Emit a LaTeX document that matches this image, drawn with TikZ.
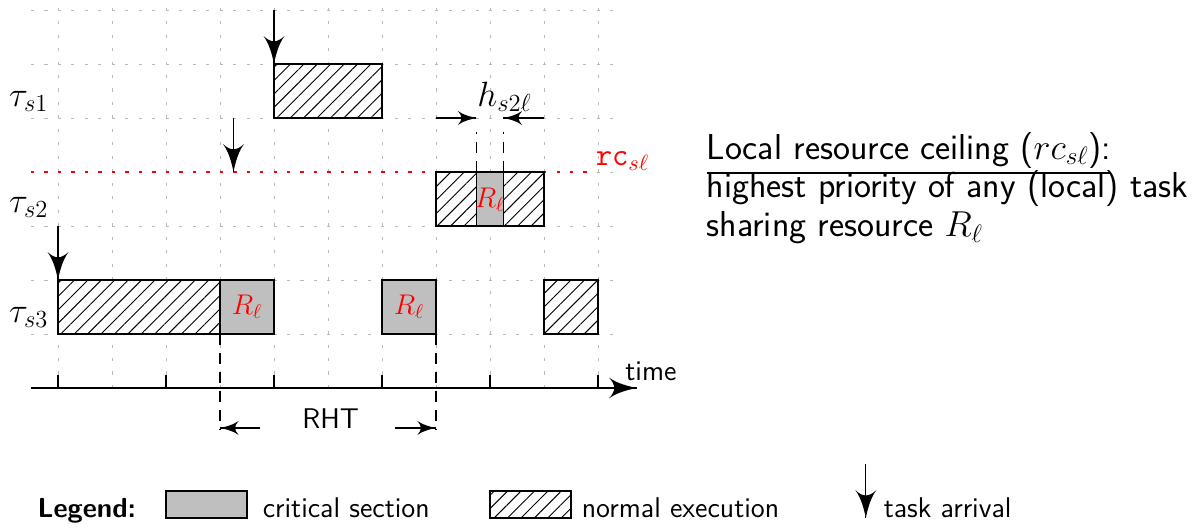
\RequirePackage{fix-cm}
\documentclass[tikz,border=0pt]{standalone}
\usepackage{fontspec}
\usepackage{amsmath}
\usepackage{amssymb}
\usepackage{tikz}
\usetikzlibrary{arrows}
\usetikzlibrary{decorations.markings}
\usetikzlibrary{patterns.meta}
\tikzset{arr/.style = {decoration={markings,
                                   mark=at position 1 with {\arrow[scale=3]{latex'}}},
                       postaction={decorate}}}
\tikzset{small arr/.style = {decoration={markings,
                                         mark=at position 1 with {\arrow[scale=2]{latex'}}},
                             postaction={decorate}}}
\tikzset{crit/.style = {draw, line width=0.8pt, fill=gray!50}}
\tikzset{norm/.style = {draw, line width=0.8pt, preaction={fill=white},
                        pattern={Lines[angle=45, distance=5pt, line width=0.5pt]}}}
\tikzset{res/.style = {text=red}}
\tikzset{task/.style = {font=\fontsize{18.5}{22}\selectfont}}
\tikzset{gridline/.style = {gray!55, line width=0.5pt, dash pattern=on 1.6pt off 5.5pt}}
\tikzset{marker/.style = {line width=0.7pt, dash pattern=on 6pt off 4pt}}

\begin{document}
\begin{tikzpicture}[font=\sffamily\fontsize{15}{18}\selectfont, line width=0.7pt]
      \useasboundingbox (-1.074, -2.611) rectangle (21.093, 7.185);
      \draw [gridline] (-0.5, 0) grid (10.45, 7.15);
      \draw [red, line width=0.7pt, dash pattern=on 1.8pt off 5.3pt] (-0.5, 4) -- (9.9, 4);
      \node [res, anchor=west, font=\fontsize{16.7}{20}\selectfont] (rc) at (9.83, 4.2) {$\texttt{rc}_{s\ell}$};

      \node [task] (t1) at (-0.54, 5.31) {$\tau_{s1}$};
      \node [task] (t2) at (-0.54, 3.35) {$\tau_{s2}$};
      \node [task] (t3) at (-0.54, 1.31) {$\tau_{s3}$};

      % task s1
      \draw [norm] (4, 5) rectangle (6, 6);
      \draw [arr] (4, 7) -- (4, 6);

      % task s2
      \draw [arr] (3.25, 5) -- (3.25, 4);
      \draw [norm] (7, 3) rectangle (9, 4);
      \draw [crit] (7.75, 3) rectangle (8.25, 4);
      \node [res] (r3) at (8, 3.48) {$R_\ell$};
      \draw [marker] (7.75, 4) -- (7.75, 4.74);
      \draw [marker] (8.25, 4) -- (8.25, 4.74);
      \draw [small arr] (7, 5) -- (7.75, 5);
      \draw [small arr] (9, 5) -- (8.25, 5);
      \node [task] (h) at (8.27, 5.39) {$h_{s2\ell}$};

      % task s3
      \draw [arr] (0, 3) -- (0, 2);
      \draw [norm] (0, 1) rectangle (3, 2);
      \draw [crit] (3, 1) rectangle (4, 2);
      \node [res] (r1) at (3.5, 1.5) {$R_\ell$};
      \draw [crit] (6, 1) rectangle (7, 2);
      \node [res] (r2) at (6.5, 1.5) {$R_\ell$};
      \draw [norm] (9, 1) rectangle (10, 2);

      % time axis
      \draw [arr] (-0.5, 0) -- (10.72, 0);
      \foreach \x in {0, 2, ..., 10}
        \draw (\x, 0) -- (\x, 0.24);
      \node (time) at (10.98, 0.3) {time};

      \draw [marker] (3, 1) -- (3, -0.76);
      \draw [marker] (7, 1) -- (7, -0.76);
      \draw [small arr] (3.74, -0.74) -- (3, -0.74);
      \draw [small arr] (6.24, -0.74) -- (7, -0.74);
      \node (rht) at (5.05, -0.57) {RHT};

      % ceiling
      \begin{scope}[every node/.style = {anchor=base west, inner sep=0,
                                         font=\sffamily\fontsize{19}{22}\selectfont}]
        \node (c1) at (12, 4.24) {\underline{Local resource ceiling ($rc_{s\ell}$):}};
        \node (c2) at (12, 3.52) {highest priority of any (local) task};
        \node (c3) at (12, 2.80) {sharing resource $R_\ell$};
      \end{scope}

      % legend
      \node [anchor=base west, inner sep=0, font=\sffamily\bfseries\fontsize{14.5}{17}\selectfont] (leg) at (-0.39, -2.4) {Legend:};
      \draw [crit] (2, -2.41) rectangle (3.5, -1.91);
      \node [anchor=base west, inner sep=0] (lcrit) at (3.78, -2.4) {critical section};
      \draw [norm] (8, -2.41) rectangle (9.5, -1.91);
      \node [anchor=base west, inner sep=0] (lnorm) at (9.69, -2.4) {normal execution};
      \draw [arr] (14.96, -1.41) -- (14.96, -2.41);
      \node [anchor=base west, inner sep=0] (larr) at (15.28, -2.4) {task arrival};
    \end{tikzpicture}
\end{document}
